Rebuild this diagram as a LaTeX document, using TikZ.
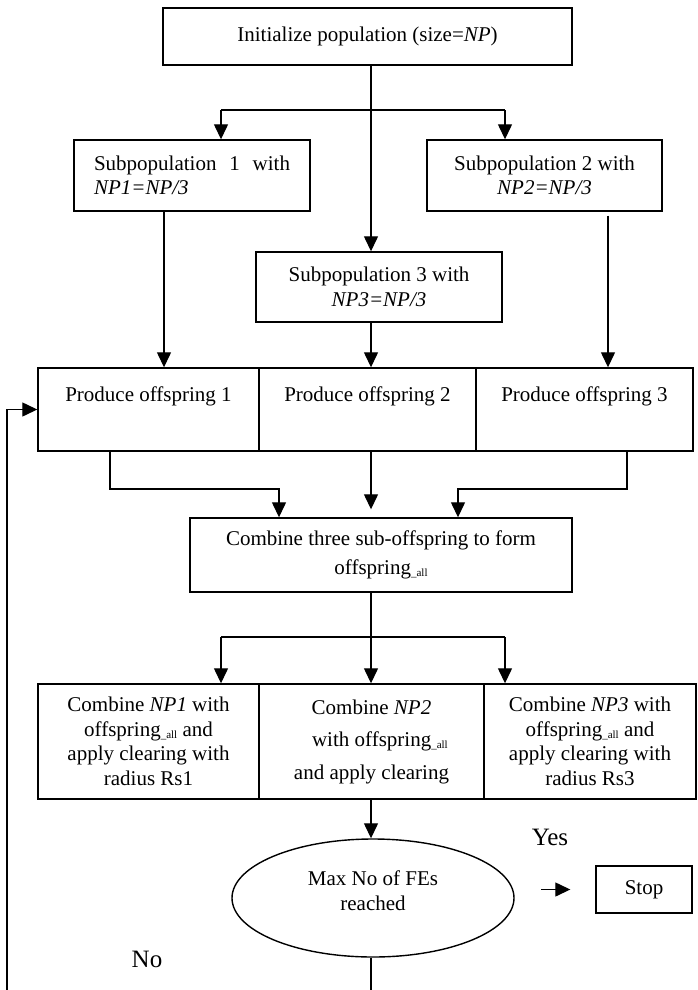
\documentclass[tikz,border=0pt]{standalone}
\usepackage{fontspec}
\setmainfont{Liberation Serif}
\usetikzlibrary{arrows.meta,shapes.geometric}
\newcommand{\offall}{offspring{\fontsize{11}{11}\selectfont\raisebox{-0.35ex}{\_all}}}
\begin{document}
\begin{tikzpicture}[x=1pt,y=-1pt,
  every node/.style={font=\fontsize{21}{24.5}\selectfont},
  box/.style={draw, line width=1.4pt, inner sep=0pt, align=center},
  arr/.style={line width=1.3pt, -{Triangle[length=15pt,width=14pt]}},
  ln/.style={line width=1.3pt}]
\useasboundingbox (0,0) rectangle (697,990);

% process boxes
\node[box, minimum width=409pt, minimum height=57pt] (init) at (367.5,36.5)
  {Initialize population (size=\textit{NP})};
\node[box, minimum width=236pt, minimum height=71pt, text width=196pt, align=left] (sp1) at (192,175.5)
  {\makebox[196pt][l]{Subpopulation\hfill 1\hfill with}\\ \textit{NP1=NP/3}};
\node[box, minimum width=235pt, minimum height=71pt] (sp2) at (544.5,175.5)
  {Subpopulation 2 with\\ \textit{NP2=NP/3}};
\node[box, minimum width=246pt, minimum height=70pt] (sp3) at (379,287)
  {Subpopulation 3 with\\ \textit{NP3=NP/3}};

\node[box, minimum width=221pt, minimum height=83pt] (p1) at (148.5,409.5)
  {Produce offspring 1\\[6pt]\mbox{}};
\node[box, minimum width=217pt, minimum height=83pt] (p2) at (367.5,409.5)
  {Produce offspring 2\\[6pt]\mbox{}};
\node[box, minimum width=217pt, minimum height=83pt] (p3) at (584.5,409.5)
  {Produce offspring 3\\[6pt]\mbox{}};

\node[box, minimum width=382pt, minimum height=74pt] (comb) at (381,555)
  {Combine three sub-offspring to form\\[4pt] \offall};

\node[box, minimum width=221pt, minimum height=115pt] (c1) at (148.5,741.5)
  {Combine \textit{NP1} with\\ \offall{} and\\ apply clearing with\\ radius Rs1};
\node[box, minimum width=225pt, minimum height=115pt] (c2) at (371.5,741.5)
  {Combine \textit{NP2}\\[8pt] \hspace*{0.8em}with \offall\\[8pt] and apply clearing};
\node[box, minimum width=212pt, minimum height=115pt] (c3) at (590,741.5)
  {Combine \textit{NP3} with\\ \offall{} and\\ apply clearing with\\ radius Rs3};

\node[box, ellipse, minimum width=282pt, minimum height=118pt] (ell) at (373,898)
  {Max No of FEs\\ reached\\[-10pt]\mbox{}};
\node[box, minimum width=96pt, minimum height=47pt] (stop) at (644,889.5) {Stop};

\node[font=\fontsize{25}{28}\selectfont] (yes) at (550,837) {Yes};
\node[font=\fontsize{25}{28}\selectfont] (no) at (147,959) {No};

% helper coordinates for the connector routes
\coordinate (mid) at (371,0);
\coordinate (xl) at (221,0);
\coordinate (xr) at (505,0);
\coordinate (br1) at (371,110);
\coordinate (br2) at (371,637);
\coordinate (xa) at (110,0);
\coordinate (xb) at (279,0);
\coordinate (xc) at (458,0);
\coordinate (xd) at (627,0);
\coordinate (jy) at (0,489);
\coordinate (bot) at (7,997);
\coordinate (s1x) at ([xshift=-28pt]sp1.south);
\coordinate (s2x) at ([xshift=63.5pt,yshift=-4pt]sp2.south);
\coordinate (cn) at ([yshift=8pt]comb.north);
\coordinate (sa) at ([xshift=-54pt]stop.west);
\coordinate (sb) at ([xshift=-25pt]stop.west);

% split into three subpopulations
\draw[arr] (init.south -| mid) -- (sp3.north -| mid);
\draw[ln] (br1 -| xl) -- (br1 -| xr);
\draw[arr] (br1 -| xl) -- (sp1.north -| xl);
\draw[arr] (br1 -| xr) -- (sp2.north -| xr);

% subpopulations to offspring production
\draw[arr] (s1x) -- (s1x |- p1.north);
\draw[arr] (s2x) -- (s2x |- p3.north);
\draw[arr] (sp3.south -| mid) -- (p2.north -| mid);

% merge offspring
\draw[arr] (p1.south -| xa) |- (jy -| xb) -- (comb.north -| xb);
\draw[arr] (p2.south -| mid) -- (cn -| mid);
\draw[arr] (p3.south -| xd) |- (jy -| xc) -- (comb.north -| xc);

% distribute to clearing steps
\draw[ln] (comb.south -| mid) -- (br2);
\draw[arr] (br2) -- (c2.north -| mid);
\draw[ln] (br2 -| xl) -- (br2 -| xr);
\draw[arr] (br2 -| xl) -- (c1.north -| xl);
\draw[arr] (br2 -| xr) -- (c3.north -| xr);

% termination test
\draw[arr] (c2.south -| mid) -- (ell.north -| mid);
\draw[arr] (sa) -- (sb);
\draw[arr] (ell.south -| mid) |- (bot) |- (p1.west);
\end{tikzpicture}
\end{document}
